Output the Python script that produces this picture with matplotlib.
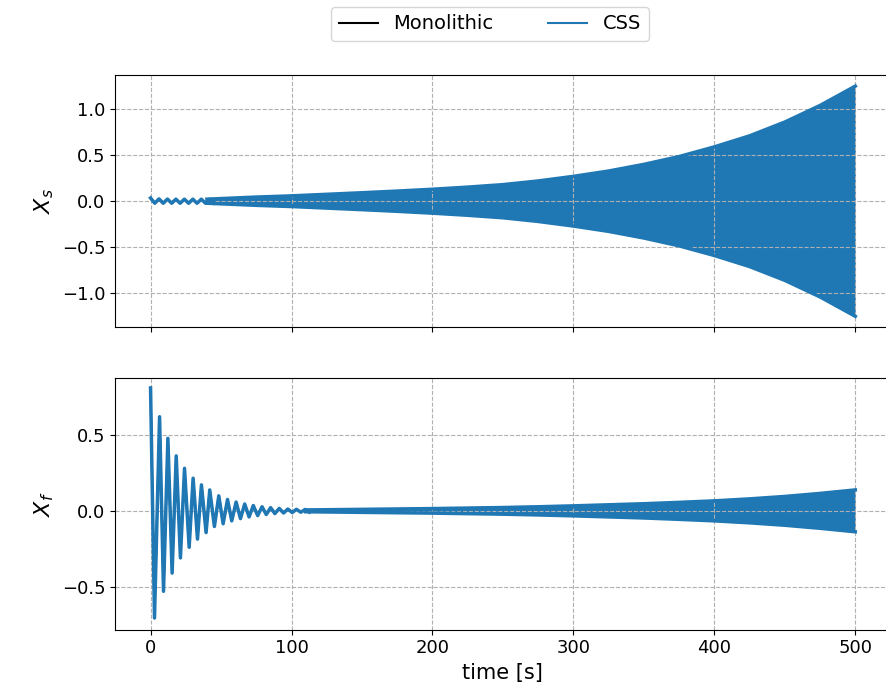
import numpy as np
from matplotlib import pyplot as plt

# bottom panel X_f: decaying oscillation, extrema
xf_t = [0, 2.8, 6.4, 9.2, 12.3, 15.3, 18.2, 21.2, 24.1, 27.4, 30.2, 33.3, 36.1, 39.4,
        42.0, 45.3, 48.4, 51.5, 54.6, 57.6, 60.7, 63.8, 66.8, 69.9, 72.9, 76.0, 79.1,
        82.1, 85.2, 88.2, 91.3, 94.4, 97.4, 100.5, 103.5, 106.6, 109.7, 112.7]
xf_v = [0.81, -0.706, 0.62, -0.53, 0.478, -0.41, 0.362, -0.31, 0.28, -0.24, 0.215, -0.186,
        0.171, -0.143, 0.138, -0.103, 0.099, -0.085, 0.075, -0.066, 0.058, -0.051, 0.045,
        -0.04, 0.035, -0.031, 0.027, -0.024, 0.021, -0.018, 0.016, -0.014, 0.012, -0.011,
        0.01, -0.009, 0.009, -0.008]
# X_f envelope of the dense growing part
xf_env_t = [110, 150, 200, 250, 275, 300, 325, 350, 375, 400, 425, 450, 475, 500]
xf_env = [0.006, 0.01, 0.015, 0.022, 0.027, 0.033, 0.04, 0.047, 0.056, 0.066, 0.079,
          0.095, 0.115, 0.138]

# top panel X_s: small wiggle at the start, then a growing band
xs_t = [0, 3, 6, 9, 12, 15, 18, 21, 24, 27, 30, 33, 36, 39, 42, 45]
xs_v = [0.035, -0.022, 0.025, -0.022, 0.023, -0.022, 0.022, -0.022, 0.022, -0.022,
        0.022, -0.022, 0.022, -0.022, 0.022, -0.022]
xs_env_t = [40, 75, 100, 125, 150, 175, 200, 225, 250, 275, 300, 325, 350, 375, 400,
            425, 450, 475, 500]
xs_env = [0.022, 0.045, 0.058, 0.075, 0.092, 0.11, 0.13, 0.153, 0.18, 0.22, 0.27, 0.328,
          0.40, 0.485, 0.59, 0.71, 0.86, 1.04, 1.25]

blue = '#1f77b4'

fig = plt.figure(figsize=(8.87, 6.95), dpi=100)
ax1 = fig.add_axes([0.130, 0.529, 0.874, 0.363])
ax2 = fig.add_axes([0.130, 0.094, 0.874, 0.362], sharex=ax1)


def draw(ax, t, v, env_t, env):
    env_t = np.array(env_t)
    env = np.array(env)
    # monolithic solution sits under the CSS one
    ax.plot(t, v, color='black', lw=1.5, label='Monolithic')
    ax.fill_between(env_t, -env, env, color=blue, lw=0)
    ax.plot(env_t, env, color=blue, lw=2.5)
    ax.plot(env_t, -env, color=blue, lw=2.5)
    ax.plot(t, v, color=blue, lw=2.5, label='CSS')
    ax.grid(True, linestyle='--', color='#b0b0b0')
    ax.tick_params(labelsize=13)


draw(ax1, xs_t, xs_v, xs_env_t, xs_env)
draw(ax2, xf_t, xf_v, xf_env_t, xf_env)

ax1.set_xlim(-25, 525)
ax1.set_ylim(-1.37, 1.37)
ax1.set_yticks([-1.0, -0.5, 0.0, 0.5, 1.0])
ax2.set_ylim(-0.783, 0.875)
ax2.set_yticks([-0.5, 0.0, 0.5])
ax2.set_xticks([0, 100, 200, 300, 400, 500])
ax1.tick_params(labelbottom=False)

ax1.set_ylabel('$X_s$', fontsize=16)
ax2.set_ylabel('$X_f$', fontsize=16)
ax2.set_xlabel('time [s]', fontsize=15)

h, l = ax1.get_legend_handles_labels()
leg = fig.legend(h, l, loc='upper center', bbox_to_anchor=(490 / 887, 1 + 3 / 695),
                 ncol=2, fontsize=14, columnspacing=2.8)
for line in leg.get_lines():
    line.set_linewidth(1.5)

fig.savefig('out.png', dpi=100)
